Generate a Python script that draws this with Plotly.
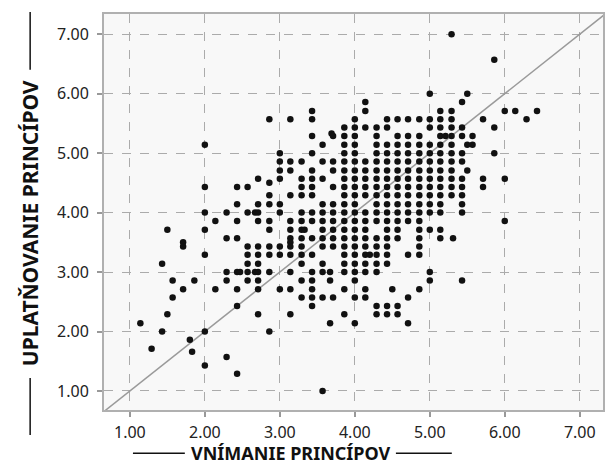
import plotly.graph_objects as go

# Tick values / labels
tick_vals = [1, 2, 3, 4, 5, 6, 7]
tick_text = ["1.00", "2.00", "3.00", "4.00", "5.00", "6.00", "7.00"]

# Scatter data: VNÍMANIE PRINCÍPOV (x) vs UPLATŇOVANIE PRINCÍPOV (y), read row by row
rows_y = [
    7.00, 6.57, 6.00, 5.86, 5.71, 5.57, 5.43, 5.33, 5.29, 5.14, 5.00, 4.86, 4.71, 4.57, 4.50,
    4.43, 4.29, 4.14, 4.00, 3.86, 3.71, 3.57, 3.50, 3.43, 3.29, 3.14, 3.00, 2.86, 2.71,
    2.57, 2.43, 2.29, 2.14, 2.00, 1.86, 1.71, 1.66, 1.57, 1.43, 1.29, 1.00,
]
rows_x = [
    [5.29],
    [5.86],
    [5.00, 5.50],
    [4.14, 5.43],
    [3.43, 4.14, 5.14, 5.29, 6.00, 6.14, 6.43],
    [2.86, 3.14, 3.43, 4.00, 4.43, 4.57, 4.71, 4.86, 5.00, 5.14, 5.29, 5.71, 6.29],
    [3.86, 4.00, 4.14, 4.29, 4.43, 5.00, 5.14, 5.29, 5.43, 5.86],
    [3.69],
    [3.43, 3.71, 3.86, 4.00, 4.29, 4.57, 4.71, 4.86, 5.14, 5.21, 5.29, 5.43, 5.57],
    [2.00, 3.57, 3.86, 4.00, 4.29, 4.43, 4.57, 4.71, 4.86, 5.00, 5.14, 5.29, 5.50, 5.57],
    [3.00, 3.43, 3.86, 4.00, 4.29, 4.43, 4.57, 4.71, 4.86, 5.00, 5.14, 5.29, 5.43, 5.86],
    [3.00, 3.14, 3.29, 3.57, 3.71, 3.86, 4.00, 4.14, 4.29, 4.43, 4.57, 4.71, 4.86, 5.00, 5.14, 5.29, 5.43],
    [3.00, 3.14, 3.43, 3.71, 3.86, 4.00, 4.14, 4.29, 4.43, 4.57, 4.71, 4.86, 5.00, 5.14, 5.29, 5.50],
    [2.71, 3.00, 3.29, 3.43, 3.57, 3.86, 4.00, 4.14, 4.29, 4.43, 4.57, 4.71, 4.86, 5.00, 5.14, 5.29, 5.43, 5.71, 6.00],
    [2.86],
    [2.00, 2.43, 2.57, 3.29, 3.43, 3.71, 3.86, 4.00, 4.14, 4.29, 4.43, 4.57, 4.71, 4.86, 5.00, 5.14, 5.29, 5.43, 5.71],
    [2.86, 3.14, 3.29, 3.43, 3.86, 4.00, 4.14, 4.29, 4.43, 4.57, 4.71, 4.86, 5.00, 5.14, 5.29, 5.43],
    [2.43, 2.71, 2.86, 3.00, 3.57, 3.71, 3.86, 4.00, 4.29, 4.43, 4.57, 4.71, 4.86, 5.00, 5.14, 5.43],
    [2.00, 2.29, 2.57, 2.67, 2.71, 3.00, 3.29, 3.43, 3.57, 3.71, 3.86, 4.00, 4.14, 4.29, 4.43, 4.57, 4.71, 4.86, 5.00, 5.14, 5.43],
    [2.14, 2.43, 2.71, 2.86, 3.14, 3.29, 3.43, 3.57, 3.71, 3.86, 4.00, 4.14, 4.29, 4.43, 4.57, 4.71, 4.86, 6.00],
    [1.50, 2.00, 2.86, 3.14, 3.29, 3.33, 3.57, 3.71, 3.86, 4.00, 4.14, 4.43, 4.57, 4.86, 5.00, 5.14],
    [2.29, 2.43, 3.14, 3.29, 3.43, 3.57, 3.71, 3.86, 4.00, 4.14, 4.29, 4.43, 4.57, 4.86, 5.14, 5.31],
    [1.71, 3.14],
    [1.71, 2.57, 2.71, 2.86, 3.00, 3.14, 3.29, 3.57, 3.71, 3.86, 4.00, 4.14, 4.29, 4.43, 4.86],
    [2.00, 2.57, 2.71, 2.86, 3.00, 3.14, 3.29, 3.43, 3.86, 4.00, 4.14, 4.20, 4.29, 4.43, 4.71, 4.86],
    [1.43, 2.57, 2.71, 3.29, 3.57, 3.86, 4.00, 4.14, 4.29, 4.43],
    [2.29, 2.43, 2.47, 2.57, 2.67, 2.71, 2.86, 3.14, 3.43, 3.57, 3.67, 3.86, 4.00, 4.14, 4.29, 5.00],
    [1.57, 1.86, 2.29, 2.57, 2.71, 3.29, 3.43, 3.67, 4.00, 5.00, 5.43],
    [1.71, 2.14, 2.43, 2.71, 3.00, 3.14, 3.43, 3.86, 4.14, 4.50, 4.86],
    [1.57, 3.29, 3.43, 3.57, 3.71, 4.00, 4.14, 4.71],
    [2.43, 3.43, 4.29, 4.43, 4.57],
    [1.50, 2.71, 3.14, 3.86, 4.29, 4.43, 4.57],
    [1.14, 3.67, 4.00, 4.71],
    [1.43, 2.00, 2.86],
    [1.80],
    [1.29],
    [1.83],
    [2.29],
    [2.00],
    [2.43],
    [3.57],
]

perception = [x for xs in rows_x for x in xs]
application = [y for y, xs in zip(rows_y, rows_x) for _ in xs]

# reference line y = x
ref_line = [0.5, 7.5]

fig = go.Figure()
fig.add_trace(go.Scatter(
    x=ref_line, y=ref_line, mode="lines",
    line=dict(color="#9a9a9a", width=1.5), hoverinfo="skip", showlegend=False,
))
fig.add_trace(go.Scatter(
    x=perception, y=application, mode="markers",
    marker=dict(color="#111111", size=6.5),
    showlegend=False, cliponaxis=True,
))

axis_common = dict(
    tickvals=tick_vals, ticktext=tick_text,
    showgrid=True, gridcolor="#ababab", griddash="dash", gridwidth=1,
    showline=True, linecolor="#b0b0b0", linewidth=2, mirror=True,
    ticks="outside", ticklen=5, tickcolor="#999999", tickwidth=1.5,
    tickfont=dict(family="Noto Sans", size=16, color="#222222"),
    zeroline=False,
)
fig.update_xaxes(range=[0.655, 7.31], ticklabelstandoff=2, **axis_common)
fig.update_yaxes(range=[0.68, 7.34], ticklabelstandoff=5, **axis_common)

fig.update_layout(
    width=606, height=472,
    margin=dict(l=104, r=1, t=14, b=62),
    paper_bgcolor="white", plot_bgcolor="#f8f8f8",
    font=dict(family="Noto Sans"),
    annotations=[
        dict(text="<b>VNÍMANIE PRINCÍPOV</b>", xref="paper", yref="paper",
             x=0.375, y=-0.109, xanchor="center", yanchor="middle", showarrow=False,
             font=dict(family="Noto Sans", size=18, color="#111111")),
        dict(text="<b>UPLATŇOVANIE PRINCÍPOV</b>", xref="paper", yref="paper",
             x=-0.148, y=0.472, xanchor="center", yanchor="middle", showarrow=False,
             textangle=-90,
             font=dict(family="Noto Sans", size=21, color="#111111")),
    ],
    shapes=[
        dict(type="line", xref="paper", yref="paper", x0=0.058, x1=0.162, y0=-0.109, y1=-0.109,
             line=dict(color="#111111", width=1.5)),
        dict(type="line", xref="paper", yref="paper", x0=0.585, x1=0.697, y0=-0.109, y1=-0.109,
             line=dict(color="#111111", width=1.5)),
        dict(type="line", xref="paper", yref="paper", x0=-0.148, x1=-0.148, y0=1.005, y1=0.859,
             line=dict(color="#111111", width=1.5)),
        dict(type="line", xref="paper", yref="paper", x0=-0.148, x1=-0.148, y0=0.081, y1=-0.063,
             line=dict(color="#111111", width=1.5)),
    ],
)

fig.write_html("out.html")
